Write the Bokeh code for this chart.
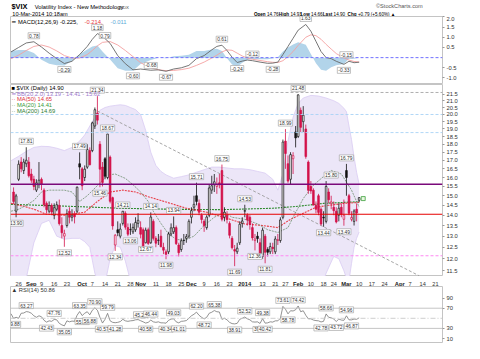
import numpy as np
from bokeh.plotting import figure
from bokeh.layouts import column
from bokeh.models import Range1d, FixedTicker, PrintfTickFormatter, Label, Span, ColumnDataSource
from bokeh.core.properties import value
from bokeh.embed import file_html
from bokeh.resources import INLINE

FONT = "Liberation Sans"

# ---------------- DATA (trading-day index, 0 = 26 Aug 2013) ----------------
candle_idx = list(range(-2, 135))
candle_open = [15.20, 14.20, 15.90, 16.90, 16.40, 16.80, 16.90, 16.20, 15.90, 15.30,
               15.60, 15.90, 15.30, 14.60, 14.20, 14.50, 14.00, 14.30, 14.50, 13.50,
               13.00, 13.50, 14.20, 13.90, 14.05, 14.20, 16.80, 16.50, 16.00, 16.60,
               17.60, 17.60, 19.20, 20.10, 18.00, 16.60, 17.10, 16.00, 17.20, 14.90,
               12.60, 13.30, 13.00, 13.60, 14.10, 13.40, 13.30, 13.20, 13.30, 13.60,
               13.40, 13.30, 12.70, 13.30, 12.70, 13.70, 12.90, 12.80, 13.00, 12.50,
               12.30, 12.30, 13.10, 13.20, 13.40, 12.60, 12.40, 12.80, 12.90, 13.00,
               13.90, 14.40, 15.00, 14.60, 14.00, 13.70, 13.40, 14.00, 15.30, 15.60,
               15.50, 15.70, 16.40, 13.90, 14.00, 13.60, 12.90, 12.40, 12.30, 12.70,
               13.60, 14.20, 14.00, 13.90, 13.40, 12.80, 13.00, 12.70, 12.10, 13.00,
               12.40, 12.30, 12.50, 12.30, 12.80, 12.80, 13.90, 18.20, 16.80, 15.90,
               17.10, 18.80, 18.50, 20.30, 19.50, 19.00, 16.90, 15.50, 15.30, 14.50,
               15.00, 14.30, 13.90, 13.70, 15.20, 14.60, 14.40, 14.20, 14.00, 14.40,
               13.80, 16.40, 15.00, 13.80, 13.70, 14.30, 14.76]
candle_high = [15.45, 15.10, 17.00, 17.20, 17.10, 17.81, 17.20, 16.50, 16.10, 15.90,
               16.90, 16.00, 15.40, 14.70, 14.70, 14.60, 14.60, 14.70, 14.80, 13.90,
               13.30, 14.30, 14.40, 14.30, 14.20, 15.50, 17.49, 16.60, 16.70, 18.00,
               17.80, 19.50, 20.50, 21.34, 18.20, 16.90, 17.20, 18.67, 17.30, 14.95,
               13.10, 13.70, 13.60, 14.21, 14.20, 13.60, 13.60, 13.60, 13.90, 14.10,
               13.70, 13.40, 13.40, 13.40, 14.14, 13.80, 13.00, 13.10, 13.30, 12.70,
               12.40, 13.20, 13.60, 13.94, 13.50, 12.70, 12.90, 13.10, 13.10, 13.80,
               14.40, 15.00, 15.71, 14.80, 14.10, 13.80, 14.00, 15.60, 16.10, 16.20,
               16.00, 16.20, 16.75, 14.40, 14.20, 13.70, 13.00, 12.60, 12.70, 13.70,
               13.90, 14.53, 14.10, 14.00, 13.60, 13.10, 13.20, 12.90, 13.40, 13.10,
               12.50, 12.70, 12.70, 13.00, 13.10, 13.90, 18.30, 18.99, 17.30, 17.50,
               17.50, 19.20, 21.48, 20.50, 20.60, 19.30, 17.00, 15.80, 15.40, 14.70,
               15.10, 14.40, 14.20, 15.80, 15.40, 15.00, 14.70, 14.40, 14.60, 14.60,
               14.80, 16.79, 15.10, 14.20, 14.30, 14.60, 14.93]
candle_low = [14.55, 13.90, 15.80, 16.30, 16.20, 16.60, 16.00, 15.70, 15.30, 15.20,
              15.40, 15.30, 14.40, 14.10, 14.10, 14.00, 13.80, 14.20, 13.50, 12.90,
              12.52, 13.40, 13.60, 13.70, 13.60, 14.10, 15.90, 15.30, 15.80, 16.50,
              16.70, 17.50, 19.00, 19.30, 15.46, 15.50, 15.90, 15.90, 14.60, 13.30,
              12.34, 13.00, 12.90, 13.50, 13.30, 13.00, 13.06, 13.10, 13.20, 13.40,
              12.90, 12.50, 12.67, 12.60, 12.65, 12.80, 12.50, 12.60, 12.50, 12.20,
              11.98, 12.20, 13.00, 13.10, 12.60, 12.10, 12.30, 12.60, 12.70, 12.90,
              13.60, 14.20, 14.50, 14.00, 13.60, 13.20, 13.30, 13.90, 15.10, 15.20,
              15.10, 15.40, 13.70, 13.70, 13.60, 12.90, 12.40, 11.69, 12.20, 12.60,
              13.40, 13.90, 13.50, 13.30, 12.80, 12.36, 12.70, 12.10, 12.00, 11.81,
              12.10, 12.20, 12.20, 12.20, 12.60, 12.70, 13.80, 16.50, 15.70, 15.60,
              16.20, 17.80, 18.40, 18.80, 18.80, 17.10, 15.10, 15.10, 14.50, 14.10,
              14.00, 13.50, 13.44, 13.60, 14.60, 14.30, 14.00, 13.60, 13.70, 13.90,
              13.49, 15.00, 14.00, 13.70, 13.50, 13.70, 14.66]
candle_close = [14.70, 14.99, 16.77, 16.50, 16.90, 17.01, 16.10, 15.85, 15.50, 15.70,
                15.85, 15.63, 14.53, 14.28, 14.49, 14.16, 14.38, 14.53, 13.59, 13.16,
                13.12, 14.08, 13.90, 14.01, 13.92, 15.46, 16.60, 15.54, 16.48, 17.67,
                16.74, 19.41, 20.34, 19.60, 16.48, 15.72, 16.07, 18.66, 14.71, 13.48,
                13.04, 13.16, 13.33, 14.20, 13.42, 13.09, 13.31, 13.41, 13.65, 13.75,
                13.09, 12.53, 13.28, 12.67, 13.91, 12.90, 12.68, 12.82, 12.52, 12.37,
                12.19, 13.10, 13.39, 13.40, 12.66, 12.26, 12.79, 12.81, 12.98, 13.70,
                14.23, 14.55, 14.70, 14.15, 13.79, 13.49, 13.91, 15.42, 15.54, 15.76,
                15.61, 15.59, 13.80, 14.15, 13.79, 13.04, 12.48, 12.33, 12.46, 13.56,
                13.72, 14.23, 13.76, 13.55, 12.92, 12.87, 12.89, 12.14, 13.28, 12.28,
                12.28, 12.53, 12.44, 12.87, 12.84, 13.77, 18.14, 17.42, 15.80, 17.35,
                17.29, 18.41, 21.44, 19.11, 19.95, 17.23, 15.29, 15.26, 14.51, 14.30,
                14.14, 13.57, 13.87, 15.50, 14.79, 14.68, 14.23, 13.67, 14.35, 14.04,
                14.00, 16.00, 14.10, 13.89, 14.21, 14.11, 14.90]

# Bollinger band (20, 2.0) edges
bb_idx = [-3, 0, 3, 6, 9, 12, 15, 18, 21, 24, 26, 28, 30, 32, 34, 36, 38, 40, 42, 44,
          46, 48, 50, 52, 54, 56, 58, 61, 64, 67, 70, 73, 76, 79, 82, 85, 88, 91, 94, 97,
          100, 102, 104, 106, 108, 110, 112, 115, 118, 121, 124, 126, 128, 129, 130, 131,
          132, 133, 134]
bb_upper = [16.98, 17.25, 17.55, 17.8, 17.87, 17.85, 17.75, 17.6, 17.8, 18.2, 18.6, 19.2,
            19.8, 20.3, 20.5, 20.6, 20.65, 20.7, 20.65, 20.5, 20.35, 20.0, 18.9, 17.5, 16.7,
            16.35, 16.15, 15.96, 16.05, 16.15, 16.3, 16.45, 16.6, 16.6, 16.55, 16.5, 16.5,
            16.45, 16.35, 16.25, 15.9, 15.3, 16.2, 18.2, 19.8, 20.8, 21.2, 21.4, 21.35, 21.2,
            21.0, 20.8, 20.45, 20.2, 19.2, 18.3, 17.2, 16.3, 15.62]
bb_lower = [10.8, 10.8, 11.2, 12.7, 13.6, 13.75, 13.0, 12.86, 12.9, 12.9, 12.75, 12.5,
            11.4, 10.8, 11.0, 12.0, 12.57, 12.5, 11.9, 11.1, 10.8, 10.6, 10.6, 10.6, 10.6,
            10.6, 10.6, 10.6, 10.6, 10.6, 10.6, 10.6, 10.6, 10.6, 10.6, 10.6, 10.6, 10.6,
            10.6, 10.6, 10.6, 10.6, 10.6, 10.6, 10.6, 10.6, 10.6, 10.6, 10.6, 11.4, 12.1,
            12.0, 11.5, 11.2, 11.1, 11.8, 12.5, 12.9, 13.19]

ma20_idx = [-3, 0, 3, 6, 9, 12, 15, 18, 21, 24, 27, 31, 35, 38, 42, 45, 48, 51, 53, 56,
            59, 62, 65, 69, 73, 77, 81, 84, 89, 94, 98, 102, 106, 108, 112, 116, 120, 123,
            127, 131, 134]
ma20 = [14.2, 14.3, 14.5, 14.75, 15.2, 15.3, 15.3, 15.3, 15.2, 14.7, 15.0, 15.55, 16.14,
        16.2, 15.95, 15.6, 15.2, 14.7, 14.2, 13.6, 13.1, 12.86, 12.8, 13.0, 13.5, 13.9,
        14.15, 13.9, 13.8, 13.58, 13.3, 13.17, 13.4, 13.9, 14.85, 15.57, 16.06, 16.4,
        16.2, 15.3, 14.41]
ma50_idx = [-3, 2, 6, 11, 18, 26, 31, 36, 41, 46, 51, 56, 61, 66, 74, 82, 89, 96, 102,
            107, 112, 117, 122, 128, 134]
ma50 = [14.6, 14.45, 14.3, 14.05, 14.0, 14.15, 14.7, 15.2, 15.3, 15.2, 14.95, 14.75,
        14.55, 14.35, 14.15, 13.85, 13.57, 13.5, 13.4, 13.8, 14.1, 14.4, 14.5, 14.6, 14.65]
ma200_idx = [-3, 20, 40, 60, 80, 100, 110, 120, 134]
ma200 = [14.55, 14.45, 14.35, 14.3, 14.28, 14.35, 14.45, 14.6, 14.69]

# horizontal chart lines, trend line, live-price marker
level_purple = 15.62
level_red = 14.05
level_blue = [20.0, 18.76]
level_gray = 21.62
level_pink = 12.13
trend_idx = [31, 157.6]
trend_val = [20.25, 11.3]
live_idx = [135.6]
live_val = [14.85]

# price labels (highs above, lows below)
hi_lab_idx = [3, 24, 31, 35, 41, 52, 61, 70, 80, 89, 105, 110, 123, 129]
hi_lab_val = [17.81, 17.49, 21.34, 18.67, 14.21, 14.14, 13.94, 15.71, 16.75, 14.53, 18.99, 21.48, 15.80, 16.79]
lo_lab_idx = [-1, 18, 32, 38, 44, 50, 58, 85, 93, 97, 120, 128]
lo_lab_val = [13.90, 12.52, 15.46, 12.34, 13.06, 12.67, 11.98, 11.69, 12.36, 11.81, 13.44, 13.49]

# MACD(12,26,9)
macd_idx = [-3, 0, 3, 6, 9, 12, 15, 18, 21, 24, 27, 29, 31, 33, 36, 39, 42, 45, 48, 52,
            55, 58, 61, 64, 67, 70, 73, 76, 78, 80, 82, 84, 86, 88, 90, 92, 95, 98, 100,
            102, 104, 106, 108, 110, 113, 115, 117, 119, 121, 123, 125, 128, 130, 132, 134]
macd_line = [0.28, 0.50, 0.72, 0.78, 0.52, 0.22, -0.05, -0.29, -0.18, 0.15, 0.55, 0.90,
             1.18, 1.05, 0.70, 0.10, -0.30, -0.60, -0.56, -0.62, -0.60, -0.67, -0.56,
             -0.50, -0.38, -0.05, 0.10, 0.38, 0.55, 0.61, 0.35, 0.02, -0.24, -0.17, -0.12,
             -0.15, -0.22, -0.28, -0.27, -0.22, 0.15, 0.55, 0.95, 1.35, 1.63, 1.30, 0.80,
             0.30, 0.00, -0.05, -0.18, -0.33, -0.18, -0.25, -0.225]
macd_signal = [-0.05, 0.12, 0.35, 0.55, 0.62, 0.52, 0.33, 0.10, -0.02, -0.02, 0.15, 0.35,
               0.58, 0.75, 0.79, 0.62, 0.35, 0.05, -0.25, -0.50, -0.60, -0.64, -0.63,
               -0.59, -0.52, -0.38, -0.22, -0.02, 0.12, 0.28, 0.38, 0.36, 0.22, 0.08,
               -0.02, -0.08, -0.14, -0.20, -0.23, -0.24, -0.15, 0.05, 0.30, 0.60, 1.00,
               1.12, 1.08, 0.90, 0.65, 0.42, 0.20, -0.02, -0.12, -0.19, -0.214]
macd_lab_idx = [6, 18, 31, 34, 45, 52, 58, 80, 86, 92, 100, 113, 129, 128]
macd_lab_val = [0.78, -0.29, 1.18, 0.79, -0.60, -0.68, -0.67, 0.61, -0.24, -0.12, -0.28, 1.63, -0.15, -0.33]
macd_lab_pos = [1, -1, 1, 1, -1, 1, -1, 1, -1, 1, -1, 1, 1, -1]

# RSI(14)
rsi_idx = list(range(-3, 135))
rsi_val = [59.0, 49.88, 52.0, 50.0, 60.0, 60.5, 63.27, 62.5, 60.0, 55.0, 52.0, 55.0, 53.0,
           46.0, 42.43, 45.0, 44.0, 47.76, 47.0, 40.0, 37.0, 35.05, 45.0, 43.0, 44.5, 44.0,
           56.0, 63.35, 55.38, 60.0, 63.0, 56.88, 66.0, 70.90, 66.0, 52.0, 40.57, 48.0,
           59.79, 45.0, 42.0, 41.28, 42.0, 43.5, 48.0, 45.0, 44.0, 45.0, 45.5, 47.0, 47.5,
           45.2, 43.0, 40.58, 42.0, 46.44, 43.0, 42.0, 43.0, 41.0, 41.0, 40.34, 46.0, 48.5,
           49.03, 43.0, 41.01, 44.0, 44.5, 45.5, 50.0, 55.0, 58.0, 62.20, 56.0, 52.0, 48.72,
           52.0, 60.0, 62.0, 65.38, 63.0, 62.5, 48.0, 50.0, 47.0, 42.0, 39.5, 38.91, 40.0,
           48.0, 50.0, 52.52, 49.0, 47.0, 43.0, 42.5, 43.0, 39.73, 49.38, 40.42, 41.0, 43.0,
           42.5, 45.0, 45.0, 50.0, 73.61, 68.0, 58.78, 65.0, 64.5, 67.0, 74.42, 63.0, 65.0,
           56.0, 49.0, 49.0, 46.5, 45.5, 45.0, 42.78, 44.0, 58.66, 52.0, 51.0, 48.5, 43.72,
           48.5, 46.5, 46.0, 54.96, 47.0, 46.87, 48.5, 48.0, 50.86]
rsi_lab_idx = [-2, 3, 11, 14, 18, 24, 25, 28, 30, 33, 35, 38, 48, 50, 52, 58, 61, 63, 70,
               73, 77, 85, 89, 95, 96, 97, 104, 106, 110, 119, 121, 125, 129, 131]
rsi_lab_val = [49.88, 63.27, 42.43, 47.76, 35.05, 63.35, 55.38, 56.88, 70.90, 40.57, 59.79,
               41.28, 45.2, 40.58, 46.44, 40.34, 49.03, 41.01, 62.20, 48.72, 65.38, 38.91,
               52.52, 39.73, 49.38, 40.42, 73.61, 58.78, 74.42, 42.78, 58.66, 43.72, 54.96,
               46.87]
rsi_lab_pos = [-1, 1, -1, 1, -1, 1, -1, -1, 1, -1, 1, -1, 1, -1, 1, -1, 1, -1, 1, -1, 1,
               -1, 1, -1, 1, -1, 1, -1, 1, -1, 1, -1, 1, -1]

# x axis labels
tick_idx = [0, 5, 9, 14, 19, 25, 29, 34, 39, 44, 48, 54, 59, 64, 68, 73, 78, 83, 89, 96,
            101, 105, 110, 115, 120, 124, 129, 134, 139, 144, 150, 154, 159, 164]
tick_lab = ["26", "Sep", "9", "16", "23", "Oct", "7", "14", "21", "28", "Nov", "11", "18",
            "25", "Dec", "9", "16", "23", "2014", "13", "21", "27", "Feb", "10", "18", "24",
            "Mar", "10", "17", "24", "Apr", "7", "14", "21"]

# header quote line
quote_lab = ["Open", "High", "Low", "Last", "Chg"]
quote_val = ["14.76", "14.93", "14.66", "14.90", "+0.79 (+5.60%) \u25b2"]

# ---------------- STYLE ----------------
RED = "#D3124A"
W = 464
BL, BR = 10, 22
XR = Range1d(-3.2, 166.8)


def make_fig(h, yr, log=False, yaxis=True):
    p = figure(width=W, height=h, x_range=XR, y_range=yr,
               y_axis_type="log" if log else "linear",
               x_axis_location=None, y_axis_location="right" if yaxis else None,
               output_backend="svg", toolbar_location=None,
               min_border_left=BL, min_border_right=BR, min_border_top=0, min_border_bottom=0)
    p.xgrid.visible = False
    p.ygrid.visible = False
    p.outline_line_color = "#c4c4c4"
    p.background_fill_color = "white"
    p.border_fill_color = "white"
    return p


def style_y(p, ticks, fmt):
    ax = p.yaxis[0]
    ax.ticker = FixedTicker(ticks=ticks)
    ax.formatter = PrintfTickFormatter(format=fmt)
    ax.axis_line_color = None
    ax.major_tick_line_color = "#999999"
    ax.major_tick_out = 2
    ax.major_tick_in = 0
    ax.minor_tick_line_color = None
    ax.major_label_text_font_size = "5.8px"
    ax.major_label_text_font = FONT
    ax.major_label_text_color = "#333333"
    ax.major_label_standoff = 2


def tag(p, x, y, txt, border, color="#222222", yoff=0, bold=False, size="5.6px"):
    p.add_layout(Label(x=x, y=y, text=txt, text_align="left", text_baseline="middle",
                       x_offset=1, y_offset=yoff, text_font=FONT, text_font_size=size,
                       text_color=color, text_font_style="bold" if bold else "normal",
                       background_fill_color="white", border_line_color=border,
                       border_line_width=0.8, padding=1))


def point_label(p, x, y, txt, pos, size="4.9px"):
    p.add_layout(Label(x=x, y=y, text=txt, text_align="center", text_baseline="middle",
                       y_offset=6 * pos, text_font=FONT, text_font_size=size,
                       text_color="#333333", background_fill_color="white",
                       border_line_color="#9a9a9a", border_line_width=0.6, padding=1))


def legend(p, yr_top, dx, dy, txt, color, size="5.8px", bold=False):
    p.add_layout(Label(x=XR.start, y=yr_top, x_offset=dx, y_offset=-dy, text=txt,
                       text_align="left", text_baseline="middle", text_font=FONT,
                       text_font_size=size, text_color=color,
                       text_font_style="bold" if bold else "normal"))


# ---------------- HEADER ----------------
hdr = figure(width=W, height=16, x_range=Range1d(0, 480), y_range=Range1d(16.75, 0),
             x_axis_location=None, y_axis_location=None, output_backend="svg",
             toolbar_location=None, min_border=0)
hdr.outline_line_color = None
hdr.grid.visible = False


def htext(x, y, t, size, color="#000000", bold=False, align="left"):
    hdr.text(x=[x], y=[y], text=[t], text_font=value(FONT), text_font_size=size,
             text_color=color, text_baseline="middle", text_align=align,
             text_font_style="bold" if bold else "normal")


htext(1, 6.5, "$VIX", "7.4px", bold=True)
htext(27, 6.8, "Volatility Index - New Methodology", "5.8px")
htext(120, 7.2, "INDX", "4.4px", color="#444444")
htext(2, 14.2, "10-Mar-2014 10:18am", "5.6px")
htext(458, 5.8, "\u00a9StockCharts.com", "5.6px", color="#555555", align="right")
val_x = [285, 311, 334, 359, 386]
for k in range(len(quote_lab)):
    htext(val_x[k] - 1.5, 14.6, quote_lab[k], "4.6px", bold=True, align="right")
    htext(val_x[k], 14.6, quote_val[k], "4.6px")

# ---------------- MACD PANEL ----------------
macd_yr = Range1d(-1.32, 2.02)
pm = make_fig(68, macd_yr)
style_y(pm, [-1.0, -0.5, 0.5, 1.0, 1.5, 2.0], "%.1f")
mi = np.array(macd_idx)
ml = np.array(macd_line)
ms = np.array(macd_signal)
pm.varea(x=mi, y1=np.zeros_like(ml), y2=ml - ms, fill_color="#B2D4EA", fill_alpha=1)
pm.add_layout(Span(location=0, dimension="width", line_color="#7070FF", line_width=1,
                   line_dash="3 2"))
pm.line(mi, ms, line_color="#F4A0A0", line_width=0.9)
pm.line(mi, ml, line_color="#666666", line_width=0.9)
for k in range(len(macd_lab_idx)):
    point_label(pm, macd_lab_idx[k], macd_lab_val[k], f"{macd_lab_val[k]:.2f}", macd_lab_pos[k])
legend(pm, macd_yr.end, 1, 5.3, "\u2501", "#000000")
legend(pm, macd_yr.end, 7.5, 5.3, "MACD(12,26,9) -0.225,", "#000000")
legend(pm, macd_yr.end, 74, 5.3, "-0.214,", "#E8383D")
legend(pm, macd_yr.end, 100, 5.3, "-0.011", "#5AAAD8")
tag(pm, 167.0, -0.011, "-0.011", "#7FB8E0", yoff=-2)
tag(pm, 167.0, -0.225, "-0.225", "#333333", yoff=-4)

# ---------------- PRICE PANEL ----------------
price_yr = Range1d(11.27, 22.24)
pp = make_fig(192, price_yr, log=True)
style_y(pp, [11.5, 12.0, 12.5, 13.0, 13.5, 14.0, 14.5, 15.0, 15.5, 16.0, 16.5, 17.0, 17.5,
             18.0, 18.5, 19.0, 19.5, 20.0, 20.5, 21.0, 21.5], "%.1f")
bi = np.array(bb_idx)
bu = np.array(bb_upper)
bl_ = np.array(bb_lower)
pp.varea(x=bi, y1=bl_, y2=bu, fill_color="#ECE6F8", fill_alpha=1)
pp.line(bi, bu, line_color="#D9CCF2", line_width=0.8)
pp.line(bi, bl_, line_color="#D9CCF2", line_width=0.8)
pp.add_layout(Span(location=level_gray, dimension="width", line_color="#9A9A9A",
                   line_width=0.8, line_dash="3 2"))
for lv in level_blue:
    pp.add_layout(Span(location=lv, dimension="width", line_color="#A8D2F5",
                       line_width=0.9, line_dash="3 2"))
pp.add_layout(Span(location=level_pink, dimension="width", line_color="#FF88F2",
                   line_width=1.2, line_dash="3 2"))
pp.line(trend_idx, trend_val, line_color="#9C9C9C", line_width=0.9, line_dash="3 2")
pp.add_layout(Span(location=level_red, dimension="width", line_color="#E60000", line_width=1.1))
pp.line(ma200_idx, ma200, line_color="#2E8B2E", line_width=1.1, line_dash="2 1")
pp.line(ma50_idx, ma50, line_color="#E8404A", line_width=1.1, line_dash="2 1")
pp.line(ma20_idx, ma20, line_color="#6F8F6F", line_width=0.8, line_dash="2 1")

o = np.array(candle_open)
h = np.array(candle_high)
lo = np.array(candle_low)
c = np.array(candle_close)
prev = np.r_[np.inf, c[:-1]]
col = np.where(c < prev, RED, "#111111")
fill = np.where(c > o, "white", col)
src = ColumnDataSource(dict(x=candle_idx, o=o, h=h, l=lo, c=c, top=np.maximum(o, c),
                            bot=np.minimum(o, c), col=col, fill=fill))
pp.segment(x0="x", y0="l", x1="x", y1="h", line_color="col", line_width=0.8, source=src)
pp.vbar(x="x", width=0.66, top="top", bottom="bot", fill_color="fill", line_color="col",
        line_width=0.7, source=src)
pp.add_layout(Span(location=level_purple, dimension="width", line_color="#7A0A7A",
                   line_width=1.5))
pp.scatter(live_idx, live_val, marker="square", size=4, fill_color="#E8F8E0",
           line_color="#3CA03C", line_width=0.8)

for k in range(len(hi_lab_idx)):
    point_label(pp, hi_lab_idx[k], hi_lab_val[k], f"{hi_lab_val[k]:.2f}", 1)
for k in range(len(lo_lab_idx)):
    point_label(pp, lo_lab_idx[k], lo_lab_val[k], f"{lo_lab_val[k]:.2f}", -1)

legend(pp, price_yr.end, 1, 3.6, "\u25a0 $VIX (Daily) 14.90", "#000000")
legend(pp, price_yr.end, 1, 9.3, "\u2501 BB(20,2.0) 13.19 - 14.41 - 15.62", "#A07CD0")
legend(pp, price_yr.end, 1, 14.9, "\u00b7\u00b7 MA(50) 14.65", "#E0303A")
legend(pp, price_yr.end, 1, 20.6, "\u00b7\u00b7 MA(20) 14.41", "#3A9A3A")
legend(pp, price_yr.end, 1, 26.3, "\u00b7\u00b7 MA(200) 14.69", "#2E7D32")

tag(pp, 167.0, 15.62, "15.62", "#9B6FCF")
tag(pp, 167.0, 14.90, "14.90", "#111111", yoff=1, bold=True)
tag(pp, 167.0, 14.65, "14.65", "#E0303A", color="#C00000", yoff=-1)
tag(pp, 167.0, 14.41, "14.41", "#9B6FCF", yoff=-2)
tag(pp, 167.0, 13.19, "13.19", "#9B6FCF")

# ---------------- DATE STRIP ----------------
pdt = make_fig(10, Range1d(0, 1), yaxis=False)
pdt.outline_line_color = None
bold_mask = [not t.isdigit() or t == "2014" for t in tick_lab]
tb_x = [tick_idx[k] for k in range(len(tick_idx)) if bold_mask[k]]
tb_t = [tick_lab[k] for k in range(len(tick_idx)) if bold_mask[k]]
tn_x = [tick_idx[k] for k in range(len(tick_idx)) if not bold_mask[k]]
tn_t = [tick_lab[k] for k in range(len(tick_idx)) if not bold_mask[k]]
pdt.text(x=tn_x, y=[0.5] * len(tn_x), text=tn_t, text_font=value(FONT), text_font_size="5.6px",
         text_align="center", text_baseline="middle", text_color="#333333")
pdt.text(x=tb_x, y=[0.5] * len(tb_x), text=tb_t, text_font=value(FONT), text_font_size="5.8px",
         text_align="center", text_baseline="middle", text_color="#222222", text_font_style="bold")

# ---------------- RSI PANEL ----------------
rsi_yr = Range1d(0.1, 113)
pr = make_fig(57, rsi_yr)
style_y(pr, [10, 30, 70, 90], "%d")
pr.add_layout(Span(location=70, dimension="width", line_color="#BDBDBD", line_width=0.9))
pr.add_layout(Span(location=30, dimension="width", line_color="#BDBDBD", line_width=0.9))
pr.add_layout(Span(location=50, dimension="width", line_color="#C8C8C8", line_width=0.9,
                   line_dash="5 2 1 2"))
pr.line(rsi_idx, rsi_val, line_color="#777777", line_width=0.8)
for k in range(len(rsi_lab_idx)):
    point_label(pr, rsi_lab_idx[k], rsi_lab_val[k], f"{rsi_lab_val[k]:.2f}", rsi_lab_pos[k])
legend(pr, rsi_yr.end, 1, 3.0, "\u25b2 RSI(14) 50.86", "#333333")
tag(pr, 167.0, 50.86, "50.86", "#333333")

layout = column(hdr, pm, pp, pdt, pr, spacing=0)
open("out.html", "w").write(file_html(layout, INLINE, "VIX"))
